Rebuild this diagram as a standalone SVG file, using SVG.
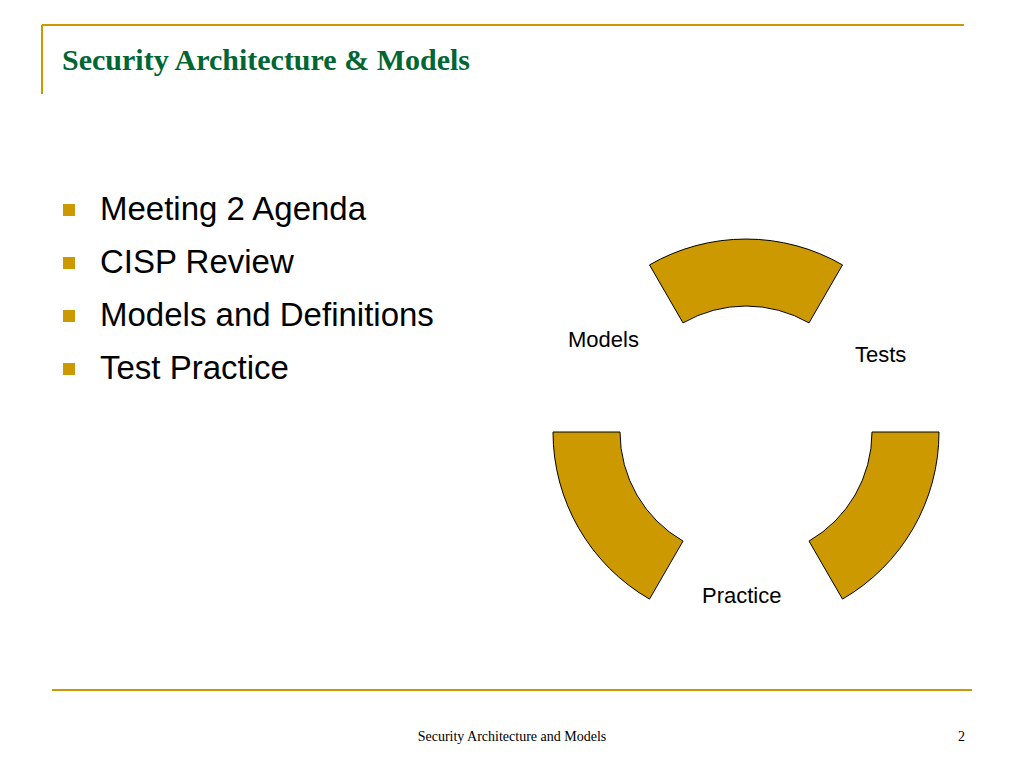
<svg xmlns="http://www.w3.org/2000/svg" width="1024" height="768" viewBox="0 0 1024 768">
<style>
.seg{fill:#cc9900;stroke:#000;stroke-width:1}
.lbl{font-family:"Liberation Sans",Arial,sans-serif;font-size:22px;fill:#000}
.bul{font-family:"Liberation Sans",Arial,sans-serif;font-size:33px;fill:#000}
.sq{fill:#cc9900}
</style>
<rect width="1024" height="768" fill="#fff"/>
<line x1="42" y1="25" x2="964" y2="25" stroke="#cc9900" stroke-width="2"/>
<line x1="42" y1="25" x2="42" y2="94" stroke="#cc9900" stroke-width="2"/>
<text x="62" y="70" font-family="Liberation Serif,serif" font-weight="bold" font-size="30" fill="#006633">Security Architecture &amp; Models</text>
<g id="bullets">
<rect class="sq" x="63" y="204" width="12" height="12"/><text class="bul" x="100" y="220">Meeting 2 Agenda</text>
<rect class="sq" x="63" y="257" width="12" height="12"/><text class="bul" x="100" y="273">CISP Review</text>
<rect class="sq" x="63" y="310" width="12" height="12"/><text class="bul" x="100" y="326">Models and Definitions</text>
<rect class="sq" x="63" y="363" width="12" height="12"/><text class="bul" x="100" y="379">Test Practice</text>
</g>
<g id="seg-top"><path class="seg" d="M649.5 264.9 A193 193 0 0 1 842.5 264.9 L809 322.9 A126 126 0 0 0 683 322.9 Z"/></g>
<g id="seg-right"><path class="seg" d="M939 432 A193 193 0 0 1 842.5 599.1 L809 541.1 A126 126 0 0 0 872 432 Z"/></g>
<g id="seg-left"><path class="seg" d="M649.5 599.1 A193 193 0 0 1 553 432 L620 432 A126 126 0 0 0 683 541.1 Z"/></g>
<g id="labels">
<text class="lbl" x="568" y="347">Models</text>
<text class="lbl" x="855" y="362">Tests</text>
<text class="lbl" x="702" y="603">Practice</text>
</g>
<line x1="52" y1="690" x2="972" y2="690" stroke="#cc9900" stroke-width="2"/>
<text x="512" y="741" text-anchor="middle" font-family="Liberation Serif,serif" font-size="14">Security Architecture and Models</text>
<text x="958" y="741" font-family="Liberation Serif,serif" font-size="14">2</text>
</svg>
